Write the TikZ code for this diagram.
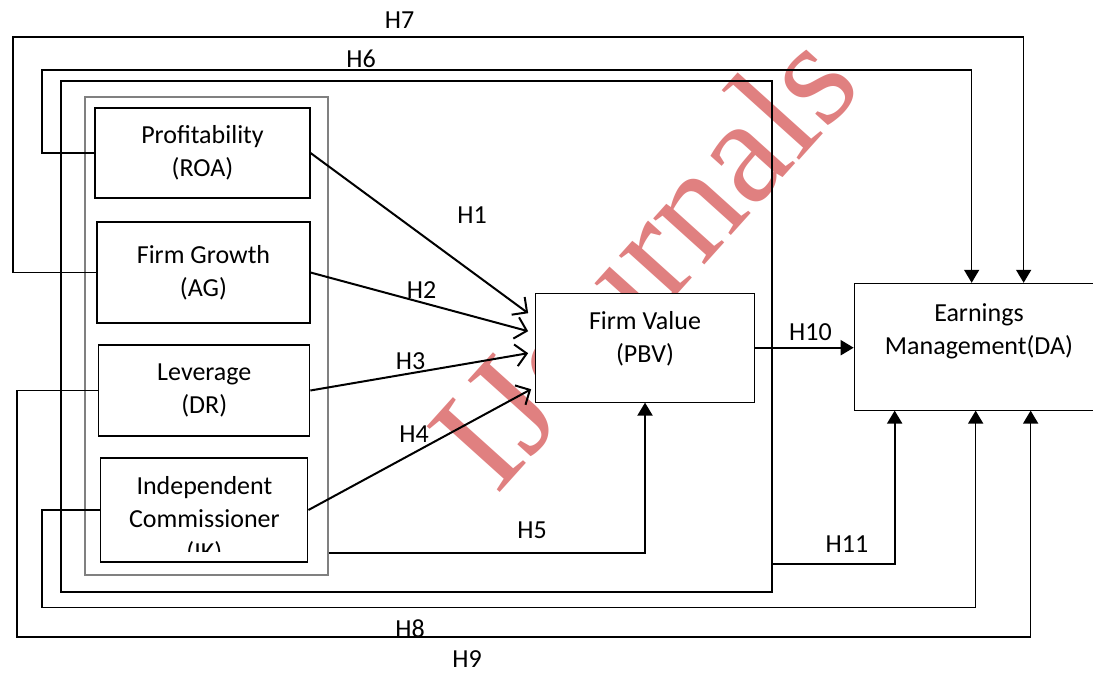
\documentclass[tikz,border=0pt]{standalone}
\usepackage{fontspec}
\setmainfont{Carlito}
\newfontfamily\wmfont{Liberation Serif}
\usetikzlibrary{arrows.meta,calc}

\definecolor{wmred}{RGB}{224,128,128}
\tikzset{
  box/.style={draw,line width=1.1pt,fill=white,inner sep=0pt,align=center},
  hyp/.style={line width=2pt,-{Straight Barb[length=11pt,width=22pt,line width=2pt]}},
  rel/.style={line width=2pt,-{Triangle[length=13pt,width=15pt]}},
  loopln/.style={line width=1.6pt,-{Triangle[length=13pt,width=15pt]}},
  lbl/.style={inner sep=0pt}
}

\begin{document}
\begin{tikzpicture}[x=1pt,y=-1pt,>=Latex,font=\fontsize{26}{33}\selectfont]
  \useasboundingbox (0,0) rectangle (1093,673);
  \clip (0,0) rectangle (1093,673);
  % watermark
  \node[rotate=48,text=wmred,font=\wmfont\fontsize{150}{150}\selectfont] (wm) at (642,258) {IJournals};
  % frames
  \node[draw,line width=1.4pt,minimum width=711pt,minimum height=511pt,inner sep=0pt] (frame) at (416.5,336.5) {};
  \node[draw,gray,line width=1.2pt,minimum width=243pt,minimum height=478pt,inner sep=0pt] (grp) at (206.5,336) {};
  % independent variables
  \node[box,minimum width=215pt,minimum height=90pt] (roa) at (202.5,153) {Profitability\\(ROA)};
  \node[box,minimum width=213pt,minimum height=101pt] (ag) at (203.5,272.5) {Firm Growth\\(AG)};
  \node[box,minimum width=211pt,minimum height=91pt] (dr) at (204.3,390.5) {Leverage\\(DR)};
  \node[box,minimum width=207pt,minimum height=104pt] (ik) at (204.4,510) {};
  \begin{scope}
    \clip (100,458) rectangle (308,551);
    \node[align=center] (iktext) at (204.4,520.5) {Independent\\Commissioner\\(IK)};
  \end{scope}
  % firm value and earnings management
  \node[box,minimum width=218.6pt,minimum height=108.7pt] (pbv) at (645,347.7) {};
  \node[align=center] (pbvtext) at (645,339) {Firm Value\\(PBV)};
  \node[box,minimum width=250pt,minimum height=126.7pt] (da) at (979.2,346.7) {};
  \node[align=center] (datext) at (979,331) {Earnings\\Management(DA)};
  % H1 - H4
  \draw[hyp] (roa.east) -- ($(pbv.west)+(-7,-34.5)$);
  \draw[hyp] (ag.east) -- ($(pbv.west)+(-7,-16.5)$);
  \draw[hyp] (dr.east) -- ($(pbv.west)+(-7,5.5)$);
  \draw[hyp] (ik.east) -- ($(pbv.west)+(-4,41.5)$);
  % H5, H10, H11
  \draw[rel] ($(grp.south east)+(0,-23)$) -| (pbv.south);
  \draw[rel] (pbv.east) -- (da.west |- pbv.east);
  \draw[rel] ($(frame.south east)+(0,-29)$) -| ($(da.south west)+(41,0)$);
  % H6 - H9
  \draw[loopln] (roa.west) -| (42,70) -| ($(da.north west)+(118,0)$);
  \draw[loopln] (ag.west) -| (13,37) -| ($(da.north west)+(170,0)$);
  \draw[loopln] (ik.west) -| (42,607.5) -| ($(da.south west)+(122,0)$);
  \draw[loopln] (dr.west) -| (17,636.7) -| ($(da.south west)+(177,0)$);
  % labels
  \node[lbl] (h1) at (472,215) {H1};
  \node[lbl] (h2) at (421.5,290) {H2};
  \node[lbl] (h3) at (410.5,361) {H3};
  \node[lbl] (h4) at (414,434.5) {H4};
  \node[lbl] (h5) at (532,530.5) {H5};
  \node[lbl] (h6) at (361,59) {H6};
  \node[lbl] (h7) at (399.5,20.5) {H7};
  \node[lbl] (h8) at (410,628.5) {H8};
  \node[lbl] (h9) at (467,659.5) {H9};
  \node[lbl] (h10) at (810.5,332) {H10};
  \node[lbl] (h11) at (847,544.5) {H11};
\end{tikzpicture}
\end{document}
